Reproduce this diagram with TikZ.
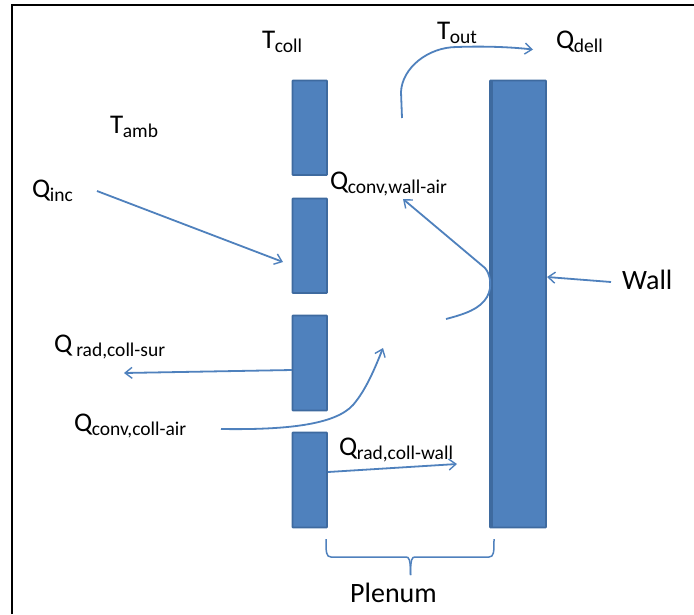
\documentclass[tikz,border=0pt]{standalone}
\usepackage{fontspec}
\setmainfont{Carlito}
\usetikzlibrary{arrows.meta}
\newcommand{\lbl}[2]{{\fontsize{27}{27}\selectfont #1}\kern-0.5pt\raisebox{-4pt}{\fontsize{19.5}{19.5}\selectfont #2}}
\definecolor{barFill}{HTML}{4F81BD}
\definecolor{barEdge}{HTML}{3E6A9F}
\definecolor{flowBlue}{HTML}{4F81BD}
\tikzset{
  bar/.style={draw=barEdge, fill=barFill, line width=1.6pt, rounded corners=0.6pt},
  flow/.style={draw=flowBlue, line width=1.8pt, -{Straight Barb[length=7pt,width=11pt,line width=1.4pt]}},
  brace/.style={draw=flowBlue, line width=1.5pt},
  txt/.style={inner sep=0pt, anchor=base west, text=black}
}
\begin{document}
\begin{tikzpicture}[x=1pt,y=-1pt]
\useasboundingbox (0,0) rectangle (694,614);
\fill[white] (0,0) rectangle (694,614);
\draw[black, line width=1.6pt] (12,614) -- (12,5) -- (694,5);
\coordinate (c1nw) at (292.5,80.5); \coordinate (c1se) at (327,175);
\coordinate (c2nw) at (292.5,198.5); \coordinate (c2se) at (327,293);
\coordinate (c3nw) at (292.5,315.5); \coordinate (c3se) at (327,410.5);
\coordinate (c4nw) at (292.5,432.5); \coordinate (c4se) at (327,527.5);
\coordinate (wnw) at (490,80.5); \coordinate (wse) at (546,527.5);
\draw[bar] (c1nw) rectangle (c1se);
\draw[bar] (c2nw) rectangle (c2se);
\draw[bar] (c3nw) rectangle (c3se);
\draw[bar] (c4nw) rectangle (c4se);
\draw[bar] (wnw) rectangle (wse);
\fill[barEdge] (490,80.5) rectangle (493,527.5);
\node[txt] (tcoll) at (262,48) {\lbl{T}{coll}};
\node[txt] (tamb) at (110,133) {\lbl{T}{amb}};
\node[txt] (qinc) at (32,197) {\lbl{Q}{inc}};
\node[txt] (tout) at (437,39) {\lbl{T}{out}};
\node[txt] (qdell) at (556,48) {\lbl{Q}{dell}};
\node[txt] (qcw) at (330,189) {\lbl{Q}{conv,wall-air}};
\node[txt] (qrs) at (54,352) {\lbl{Q}{ rad,coll-sur}};
\node[txt] (qca) at (74,431) {\lbl{Q}{conv,coll-air}};
\node[txt] (qrw) at (339,455) {\lbl{Q}{rad,coll-wall}};
\node[txt] (wall) at (622,289) {\fontsize{28}{28}\selectfont Wall};
\node[txt] (plenum) at (350,602) {\fontsize{28}{28}\selectfont Plenum};
\coordinate (a1) at (97,191); \coordinate (a2) at (283,262);
\coordinate (b1) at (292,370); \coordinate (b2) at (124,373);
\coordinate (c1) at (221,429); \coordinate (c2) at (383,348);
\coordinate (d1) at (328,472); \coordinate (d2) at (457,464);
\coordinate (e1) at (402,118); \coordinate (e2) at (533,49.5);
\coordinate (f1) at (446,319); \coordinate (f2) at (403,199);
\coordinate (g1) at (611,282); \coordinate (g2) at (547,277);
\draw[flow] (a1) -- (a2);
\draw[flow] (b1) -- (b2);
\draw[flow] (c1) .. controls (285,430) and (335,425) .. (353,405) .. controls (366,390) and (375,368) .. (c2);
\draw[flow] (d1) -- (d2);
\draw[flow] (e1) -- (401,92) .. controls (402,68) and (428,47) .. (457,47) .. controls (485,46) and (510,47) .. (e2);
\draw[flow] (f1) .. controls (465,314) and (480,309) .. (487,297) .. controls (493,286) and (490,274) .. (485,268) -- (f2);
\draw[flow] (g1) -- (g2);
\coordinate (bl) at (326,539); \coordinate (br) at (494,539); \coordinate (bm) at (410.5,575);
\draw[brace] (bl) .. controls (326,552) and (326,557) .. (331,557) -- (406,557) .. controls (409,557) and (410.5,559) .. (bm);
\draw[brace] (br) .. controls (494,552) and (494,557) .. (489,557) -- (415,557) .. controls (412,557) and (410.5,559) .. (bm);
\end{tikzpicture}
\end{document}
